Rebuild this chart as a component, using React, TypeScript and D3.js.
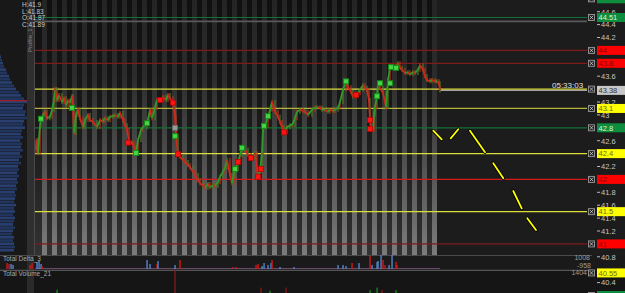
import React from 'react';
import * as d3 from 'd3';

// ---------- data ----------
// [bar index, close price]
const priceBars: [number, number][] = [
  [0, 42.46], [1, 42.61], [2, 42.41], [4, 42.84], [5, 42.94], [7, 43.0], [9, 43.05], [11, 42.95], [14, 42.97], [16, 43.08],
  [18, 43.23], [19, 43.4], [21, 43.23], [23, 43.31], [26, 43.2], [28, 43.26], [30, 43.15], [32, 43.22], [34, 43.19], [36, 43.29],
  [37, 43.11], [38, 42.72], [40, 43.0], [42, 43.08], [44, 42.95], [47, 42.81], [49, 42.92], [52, 43.0], [54, 42.92], [57, 42.89],
  [61, 42.81], [64, 42.92], [67, 42.9], [69, 42.95], [72, 42.92], [74, 42.97], [77, 42.98], [79, 43.0], [82, 42.97], [84, 43.03],
  [87, 42.92], [89, 42.84], [91, 42.77], [93, 42.57], [96, 42.57], [98, 42.49], [100, 42.41], [102, 42.61], [105, 42.77], [107, 42.81],
  [111, 42.87], [113, 43.0], [114, 43.08], [116, 42.95], [119, 43.11], [121, 43.23], [124, 43.23], [127, 43.28], [130, 43.23], [132, 43.31],
  [134, 43.26], [137, 43.19], [139, 42.97], [140, 42.67], [142, 42.39], [144, 42.35], [147, 42.3], [149, 42.27], [152, 42.22], [154, 42.19],
  [157, 42.12], [159, 42.07], [162, 41.99], [164, 41.94], [167, 41.9], [169, 41.87], [172, 41.93], [174, 41.88], [177, 41.91], [179, 41.9],
  [182, 41.96], [184, 42.04], [187, 42.12], [189, 42.18], [191, 42.3], [194, 42.07], [196, 41.94], [199, 42.16], [202, 42.27], [204, 42.38],
  [206, 42.49], [209, 42.46], [212, 42.38], [215, 42.33], [219, 42.41], [221, 42.15], [222, 42.04], [224, 42.13], [226, 42.41], [227, 42.8],
  [229, 42.83], [232, 42.98], [234, 43.08], [236, 43.2], [239, 43.05], [242, 42.97], [244, 42.89], [246, 42.81], [248, 42.73], [251, 42.81],
  [254, 42.84], [256, 42.84], [259, 42.95], [261, 43.05], [264, 43.08], [267, 43.06], [269, 43.05], [272, 43.0], [276, 43.08], [279, 43.11],
  [281, 43.12], [284, 43.11], [286, 43.08], [289, 43.08], [292, 43.05], [294, 43.08], [297, 43.06], [299, 43.08], [302, 43.11], [304, 43.2],
  [307, 43.39], [310, 43.52], [312, 43.43], [315, 43.36], [317, 43.28], [320, 43.31], [322, 43.34], [324, 43.39], [327, 43.46], [329, 43.42],
  [331, 43.39], [333, 43.23], [334, 42.92], [335, 42.78], [337, 42.77], [338, 43.0], [339, 43.12], [341, 43.29], [342, 43.49], [344, 43.42],
  [347, 43.34], [350, 43.12], [352, 43.54], [354, 43.74], [357, 43.76], [360, 43.73], [362, 43.8], [364, 43.73], [366, 43.7], [369, 43.65],
  [372, 43.66], [374, 43.63], [377, 43.66], [379, 43.65], [382, 43.7], [384, 43.77], [387, 43.7], [389, 43.6], [391, 43.54], [394, 43.52],
  [396, 43.54], [399, 43.52], [401, 43.52], [403, 43.49], [404, 43.38],
];

const buyMarks: [number, number][] = [
  [5, 42.94], [36, 43.11], [100, 42.41], [111, 42.87], [139, 42.67], [199, 42.16], [206, 42.49], [228, 42.83], [232, 42.98],
  [310, 43.52], [341, 43.29], [344, 43.49], [354, 43.49], [355, 43.74], [360, 43.73],
];
const sellMarks: [number, number][] = [
  [92, 42.57], [124, 43.23], [137, 43.19], [142, 42.39], [202, 42.27], [215, 42.33], [222, 42.04], [225, 42.16], [248, 42.73],
  [320, 43.31], [334, 42.92], [334, 42.78],
];
const neutralMarks: [number, number][] = [[139, 42.8]];

// projected path: [bar1, price1, bar2, price2]
const projection: [number, number, number, number][] = [
  [397.3, 42.755, 405.7, 42.62], [414.7, 42.637, 422.3, 42.777], [434, 42.755, 449, 42.42],
  [457.3, 42.25, 467.3, 42.017], [477.3, 41.82, 485.7, 41.55], [491.3, 41.397, 500, 41.215],
];

const levelPrices = [44.8, 44.51, 44.45, 44.0, 43.8, 43.4, 43.1, 42.8, 42.4, 42.0, 41.5, 41.0, 40.55, 40.2];
const levelKinds = ['green', 'green', 'rule', 'darkred', 'darkred', 'yellow', 'olive', 'green', 'yellow', 'red', 'yellow', 'darkred', 'yellow', 'green'];
const levelLabels = ['', '44.51', '', '44', '43.8', '', '43.1', '42.8', '42.4', '42', '41.5', '41', '40.55', ''];
const levelHasTag = [true, true, false, true, true, true, true, true, true, true, true, true, true, true];
const levelHasLabelBox = [true, true, false, true, true, false, true, true, true, true, true, true, true, true];

const lastPrice = 43.38;
const lastPriceText = '43.38';
const barTimer = '05:33:03';
const ohlcText = ['H:41.9', 'L:41.83', 'O:41.87', 'C:41.89'];

// volume profile, from 43.90 down in 0.05 steps
const profileTop = 43.9;
const profileVolumes = [
  1, 2, 3, 4, 6, 7, 9, 10, 12, 14, 16, 19, 21, 24, 28, 24, 23, 26, 25, 27, 24, 23, 25, 22, 21, 23, 20, 22, 21, 23,
  20, 22, 19, 21, 18, 19, 17, 19, 17, 18, 16, 17, 15, 16, 15, 14, 16, 14, 15, 13, 15, 14, 13, 15, 13, 12, 14, 13, 14, 15, 14,
];
const pocPrice = 43.22;

// delta histogram [bar, delta]
const deltaBars: [number, number][] = [
  [-29, -500], [-27, -420], [-25, 420], [-23, 340], [-6, -340], [-4, -500], [1, 590], [3, 670], [5, 420], [6, -250],
  [111, 760], [114, 420], [121, -420], [122, 670], [139, 340], [144, -760], [197, -170], [200, -170], [220, -340], [222, -420],
  [226, 250], [228, 500], [232, 340], [235, 500], [236, -760], [244, 170], [258, 170], [302, 340], [307, 340], [310, 250],
  [316, -500], [323, 500], [334, -1090], [336, 340], [341, 590], [342, 670], [345, 1180], [347, -760], [349, -340], [353, 340],
  [356, 1180], [360, -590], [361, -340],
];
// volume histogram [bar, volume, up?]
const volumeBars: [number, number, number][] = [
  [6, 300, 1], [21, 500, 1], [139, 1500, 0], [225, 600, 0], [234, 450, 1], [250, 600, 0], [334, 480, 1], [341, 600, 1],
  [346, 480, 0], [360, 480, 1],
];
const deltaMax = '1008';
const deltaMin = '-958';
const volumeMax = '1404';

// ---------- styling ----------
const lineColor: Record<string, string> = {
  green: '#127038', rule: '#5a5a5a', darkred: '#7e1b1b', yellow: '#dede3a', olive: '#b4b436', red: '#d41a1a',
};
const labelFill: Record<string, string> = {
  green: '#0e8d3e', darkred: '#ff0000', red: '#ff0000', yellow: '#ffff00', olive: '#ffff00',
};
const labelText: Record<string, string> = {
  green: '#d8f5d8', darkred: '#8a0000', red: '#8a0000', yellow: '#6a6a20', olive: '#6a6a20',
};

export default function App() {
  const x = d3.scaleLinear().domain([0, 551]).range([36, 587]);
  const y = d3.scaleLinear().domain([44.6, 40.4]).range([11.7, 282.6]);
  const pw = d3.scaleLinear().domain([0, 28]).range([0, 28]);
  const yD = d3.scaleLinear().domain([0, 1008]).range([269, 257]);
  const yV = d3.scaleLinear().domain([0, 1404]).range([300, 271]);

  const stripeStarts = d3.range(6, 401, 10);
  const ticks = d3.range(0, 22).map((i) => +(44.6 - 0.2 * i).toFixed(1));
  const labelYs = levelLabels.map((l, i) => (l ? y(levelPrices[i]) : null)).filter((v) => v !== null) as number[];
  labelYs.push(y(lastPrice));
  const visibleTicks = ticks.filter((t) => labelYs.every((ly) => Math.abs(ly - y(t)) >= 4));
  const fmt = d3.format('');

  const up = '#2f9a2a';
  const dn = '#d0281c';

  const mainTop = 0;
  const mainBottom = 255;

  return (
    <div>
      <style>{`body{margin:0;background:#1c1c1c}`}</style>
      <svg width={625} height={293} style={{ display: 'block', fontFamily: '"Liberation Sans", Arial, sans-serif' }}>
        <defs>
          <linearGradient id="lightStripe" x1="0" y1="0" x2="0" y2="1">
            <stop offset="0" stopColor="#242424" />
            <stop offset="0.3" stopColor="#2c2c2c" />
            <stop offset="0.6" stopColor="#4c4c4c" />
            <stop offset="1" stopColor="#7c7c7c" />
          </linearGradient>
          <linearGradient id="darkStripe" x1="0" y1="0" x2="0" y2="1">
            <stop offset="0" stopColor="#101010" />
            <stop offset="0.5" stopColor="#1a1a1a" />
            <stop offset="1" stopColor="#323232" />
          </linearGradient>
          <clipPath id="mainClip">
            <rect x={35} y={mainTop} width={552} height={mainBottom - mainTop} />
          </clipPath>
        </defs>

        <rect x={0} y={0} width={625} height={293} fill="#1c1c1c" />
        {/* left panel */}
        <rect x={0} y={0} width={35} height={255} fill="#181818" />

        {/* stripes */}
        <rect x={x(-1)} y={mainTop} width={x(401) - x(-1)} height={mainBottom} fill="url(#darkStripe)" />
        {stripeStarts.map((b) => (
          <rect key={b} x={x(b)} y={mainTop} width={x(b + 5) - x(b)} height={mainBottom} fill="url(#lightStripe)" />
        ))}

        {/* volume profile */}
        {profileVolumes.map((v, i) => {
          const p = profileTop - 0.05 * i;
          return <rect key={i} x={0} y={y(p) - 1.5} width={pw(v)} height={2.7} fill={i % 2 ? '#21355f' : '#283f70'} />;
        })}
        <line x1={0} x2={35} y1={y(pocPrice)} y2={y(pocPrice)} stroke="#c01c1c" strokeWidth={1} />
        <rect x={27} y={0} width={7} height={293} fill="#2f2f2f" />
        <line x1={34.5} x2={34.5} y1={0} y2={293} stroke="#4a4a4a" strokeWidth={1} />
        <text transform="translate(32,52) rotate(-90)" fontSize={6} fill="#8a8a8a">Profile_1</text>

        {/* level lines */}
        <g clipPath="url(#mainClip)">
          {levelPrices.map((p, i) => (
            <line
              key={i}
              x1={x(-1)}
              x2={x(551)}
              y1={y(p)}
              y2={y(p)}
              stroke={lineColor[levelKinds[i]]}
              strokeWidth={levelKinds[i] === 'rule' ? 1.6 : 1.2}
            />
          ))}
          <line x1={x(404)} x2={x(551)} y1={y(lastPrice)} y2={y(lastPrice)} stroke="#b8b8b8" strokeWidth={1} />

          {/* price series */}
          {priceBars.slice(1).map((d, i) => {
            const prev = priceBars[i];
            const c = d[1] >= prev[1] ? up : dn;
            return (
              <g key={i}>
                <line
                  x1={x(d[0])}
                  x2={x(d[0])}
                  y1={y(Math.max(d[1], prev[1])) - 2}
                  y2={y(Math.min(d[1], prev[1])) + 2}
                  stroke={i % 2 ? '#4f7a1e' : '#b8341a'}
                  strokeWidth={1.2}
                />
                <line x1={x(prev[0])} y1={y(prev[1])} x2={x(d[0])} y2={y(d[1])} stroke={c} strokeWidth={1.8} />
              </g>
            );
          })}
          <line x1={x(0)} x2={x(0)} y1={y(42.62)} y2={y(42.4)} stroke={dn} strokeWidth={1.2} />

          {/* markers */}
          {buyMarks.map((d, i) => (
            <rect key={'b' + i} x={x(d[0]) - 2.5} y={y(d[1]) - 2.5} width={5} height={5} fill="#44d444" stroke="#178a17" strokeWidth={1} />
          ))}
          {sellMarks.map((d, i) => (
            <rect key={'s' + i} x={x(d[0]) - 2.5} y={y(d[1]) - 2.5} width={5} height={5} fill="#ff1414" stroke="#c00000" strokeWidth={0.8} />
          ))}
          {neutralMarks.map((d, i) => (
            <rect key={'n' + i} x={x(d[0]) - 2.5} y={y(d[1]) - 2.5} width={5} height={5} fill="#9a9a9a" stroke="#666" strokeWidth={0.8} />
          ))}

          {/* projection */}
          {projection.map((s, i) => (
            <g key={'p' + i}>
              <line x1={x(s[0])} y1={y(s[1])} x2={x(s[2])} y2={y(s[3])} stroke="#000" strokeWidth={3.4} strokeLinecap="round" />
              <line x1={x(s[0])} y1={y(s[1])} x2={x(s[2])} y2={y(s[3])} stroke="#ffff00" strokeWidth={1.8} strokeLinecap="round" />
            </g>
          ))}
        </g>

        {/* header */}
        {ohlcText.map((t, i) => (
          <text key={t} x={22} y={7 + i * 6.6} fontSize={6.5} fill="#c8c8c8">{t}</text>
        ))}
        <text x={552} y={88} fontSize={8} fill="#e0e0e0">{barTimer}</text>

        {/* lower panels */}
        <rect x={0} y={256} width={625} height={14} fill="#1a1a1a" />
        <rect x={0} y={270.5} width={625} height={23} fill="#151515" />
        <rect x={27} y={256} width={7} height={37} fill="#2a2a2a" />
        <line x1={0} x2={592} y1={255.5} y2={255.5} stroke="#4a4a4a" strokeWidth={1.2} />
        <line x1={0} x2={592} y1={270.3} y2={270.3} stroke="#555" strokeWidth={1.2} />
        <line x1={x(-1)} x2={x(404)} y1={268.5} y2={268.5} stroke="#6a4a6a" strokeWidth={1} />
        {deltaBars.map((d, i) => (
          <rect
            key={'d' + i}
            x={x(d[0]) - 0.6}
            y={yD(Math.abs(d[1]))}
            width={1.3}
            height={yD(0) - yD(Math.abs(d[1]))}
            fill={d[1] >= 0 ? '#5a8ad8' : '#e01818'}
          />
        ))}
        {volumeBars.map((d, i) => (
          <rect
            key={'v' + i}
            x={x(d[0]) - 0.6}
            y={yV(d[1])}
            width={1.3}
            height={yV(0) - yV(d[1])}
            fill={d[2] ? '#1e8a1e' : '#8a1818'}
          />
        ))}
        <text x={3} y={261} fontSize={6.5} fill="#a8a8a8">Total Delta_3</text>
        <text x={3} y={276} fontSize={6.5} fill="#a8a8a8">Total Volume_21</text>
        <text x={590} y={260} fontSize={7} fill="#9a9a9a" textAnchor="end">{deltaMax}</text>
        <text x={591} y={267.5} fontSize={7} fill="#9a9a9a" textAnchor="end">{deltaMin}</text>
        <text x={587} y={274.5} fontSize={7} fill="#9a9a9a" textAnchor="end">{volumeMax}</text>

        {/* price axis */}
        {visibleTicks.map((t) => (
          <g key={'t' + t}>
            <line x1={597} x2={600} y1={y(t)} y2={y(t)} stroke="#bbb" strokeWidth={1} />
            <text x={601} y={y(t) + 2.8} fontSize={7.5} fill="#c4c4c4">{fmt(t)}</text>
          </g>
        ))}

        {/* boxes and labels */}
        {levelPrices.map((p, i) =>
          levelHasTag[i] ? (
            <g key={'box' + i}>
              <rect x={588.5} y={y(p) - 3} width={6} height={6} fill="#202020" stroke="#9a9a9a" strokeWidth={0.9} />
              <line x1={589.8} y1={y(p) - 1.8} x2={593.2} y2={y(p) + 1.8} stroke="#d0d0d0" strokeWidth={0.8} />
              <line x1={593.2} y1={y(p) - 1.8} x2={589.8} y2={y(p) + 1.8} stroke="#d0d0d0" strokeWidth={0.8} />
            </g>
          ) : null
        )}
        {levelPrices.map((p, i) =>
          levelHasLabelBox[i] ? (
            <g key={'lab' + i}>
              <rect x={597} y={y(p) - 4.5} width={28} height={9} fill={labelFill[levelKinds[i]]} />
              {levelLabels[i] ? (
                <text x={598.5} y={y(p) + 2.8} fontSize={7.5} fill={labelText[levelKinds[i]]}>{levelLabels[i]}</text>
              ) : null}
            </g>
          ) : null
        )}
        <rect x={597} y={y(lastPrice) - 4.5} width={28} height={9} fill="#c8c8c8" />
        <text x={598.5} y={y(lastPrice) + 2.8} fontSize={7.5} fill="#333">{lastPriceText}</text>
      </svg>
    </div>
  );
}
